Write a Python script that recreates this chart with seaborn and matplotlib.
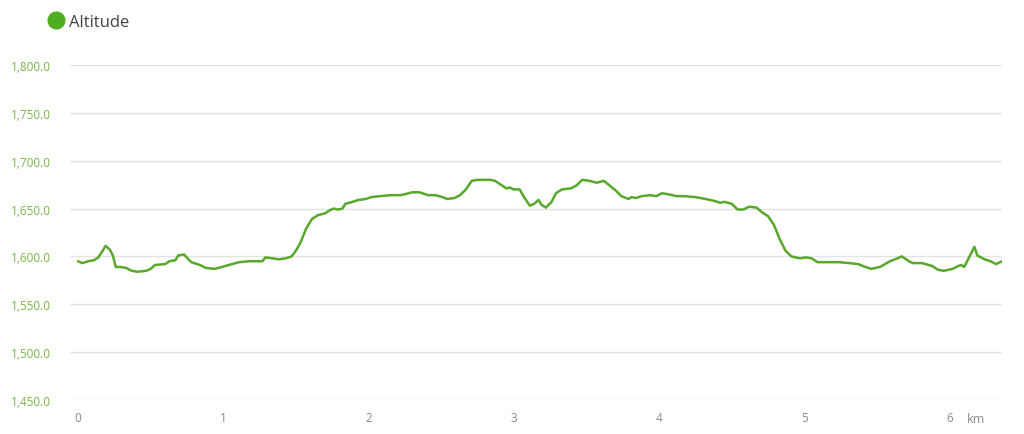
import matplotlib
matplotlib.use("Agg")
import matplotlib.pyplot as plt
from matplotlib.lines import Line2D
from matplotlib.ticker import FuncFormatter
import seaborn as sns
import pandas as pd

# distance along the track (km) and altitude (m)
distance_km = [
    0.00, 0.03, 0.07, 0.11, 0.14, 0.17, 0.19, 0.22, 0.24, 0.26, 0.29, 0.33,
    0.37, 0.41, 0.47, 0.50, 0.53, 0.60, 0.63, 0.67, 0.69, 0.73, 0.76, 0.78,
    0.84, 0.88, 0.94, 0.99, 1.06, 1.11, 1.18, 1.27, 1.29, 1.34, 1.38, 1.43,
    1.47, 1.50, 1.53, 1.57, 1.61, 1.65, 1.70, 1.73, 1.76, 1.79, 1.82, 1.84,
    1.89, 1.93, 1.98, 2.02, 2.08, 2.15, 2.22, 2.25, 2.30, 2.35, 2.41, 2.46,
    2.51, 2.54, 2.59, 2.63, 2.67, 2.71, 2.75, 2.84, 2.87, 2.90, 2.95, 2.97,
    3.00, 3.04, 3.07, 3.11, 3.14, 3.17, 3.19, 3.22, 3.26, 3.29, 3.33, 3.39,
    3.43, 3.47, 3.52, 3.57, 3.62, 3.66, 3.70, 3.74, 3.79, 3.81, 3.84, 3.88,
    3.94, 3.98, 4.02, 4.06, 4.12, 4.17, 4.25, 4.32, 4.38, 4.42, 4.45, 4.50,
    4.54, 4.58, 4.62, 4.67, 4.71, 4.75, 4.79, 4.83, 4.87, 4.91, 4.97, 5.01,
    5.05, 5.09, 5.18, 5.24, 5.31, 5.37, 5.42, 5.46, 5.52, 5.59, 5.64, 5.67,
    5.70, 5.73, 5.75, 5.81, 5.88, 5.92, 5.96, 6.02, 6.06, 6.08, 6.10, 6.14,
    6.17, 6.19, 6.24, 6.28, 6.32, 6.36,
]
altitude_m = [
    1595, 1593, 1595, 1596, 1599, 1606, 1611, 1607, 1601, 1589, 1589, 1588,
    1585, 1584, 1585, 1587, 1591, 1592, 1595, 1596, 1601, 1602, 1597, 1594,
    1591, 1588, 1587, 1589, 1592, 1594, 1595, 1595, 1599, 1598, 1597, 1598,
    1600, 1606, 1614, 1629, 1639, 1643, 1645, 1648, 1650, 1649, 1650, 1655,
    1657, 1659, 1660, 1662, 1663, 1664, 1664, 1665, 1667, 1667, 1664, 1664,
    1662, 1660, 1661, 1664, 1670, 1679, 1680, 1680, 1679, 1676, 1671, 1672,
    1670, 1670, 1662, 1653, 1655, 1659, 1654, 1651, 1657, 1666, 1670, 1671,
    1674, 1680, 1679, 1677, 1679, 1674, 1669, 1663, 1660, 1662, 1661, 1663,
    1664, 1663, 1666, 1665, 1663, 1663, 1662, 1660, 1658, 1656, 1657, 1655,
    1649, 1649, 1652, 1651, 1646, 1642, 1633, 1618, 1606, 1600, 1598, 1599,
    1598, 1594, 1594, 1594, 1593, 1592, 1589, 1587, 1589, 1595, 1598, 1600,
    1597, 1594, 1593, 1593, 1590, 1586, 1585, 1587, 1590, 1591, 1589, 1601,
    1610, 1601, 1597, 1595, 1592, 1595,
]
y_ticks = [1450, 1500, 1550, 1600, 1650, 1700, 1750, 1800]
x_ticks = [0, 1, 2, 3, 4, 5, 6]

line_color = "#57a82b"
label_green = "#7ab648"

sns.set_style("white")
plt.rcParams["font.family"] = ["Open Sans", "DejaVu Sans"]

df = pd.DataFrame({"km": distance_km, "alt": altitude_m})

fig = plt.figure(figsize=(10.24, 4.35), dpi=100)
ax = fig.add_axes([70 / 1024, 1 - 401 / 435, 932 / 1024, 335 / 435])

sns.lineplot(data=df, x="km", y="alt", ax=ax, color=line_color, linewidth=1.8, legend=False)

ax.set_xlim(-0.055, 6.36)
ax.set_ylim(1450, 1800)
ax.set_yticks(y_ticks)
ax.set_xticks(x_ticks)
ax.yaxis.set_major_formatter(FuncFormatter(lambda v, p: f"{v:,.1f}"))
ax.grid(axis="y", color="#e3e3e3", linewidth=1)
ax.grid(axis="x", visible=False)
for s in ax.spines.values():
    s.set_visible(False)
ax.tick_params(axis="y", length=0, pad=14, labelsize=8.5, labelcolor=label_green)
ax.tick_params(axis="x", length=0, pad=8, labelsize=8.5, labelcolor="#8a8a8a")
ax.set_xlabel("")
ax.set_ylabel("")

ax.text(6.12, -0.035, "km", transform=ax.get_xaxis_transform(), ha="left", va="top",
        fontsize=9, color="#8a8a8a")

handle = Line2D([], [], marker="o", linestyle="none", markersize=12,
                markerfacecolor="#4fad1f", markeredgecolor="#4fad1f")
fig.legend([handle], ["Altitude"], loc="upper left", bbox_to_anchor=(34 / 1024, 1 - 3 / 435),
           frameon=False, fontsize=12, handletextpad=0.2, labelcolor="#444444",
           handlelength=1.2, borderpad=0.2)

fig.savefig("out.png", dpi=100)
